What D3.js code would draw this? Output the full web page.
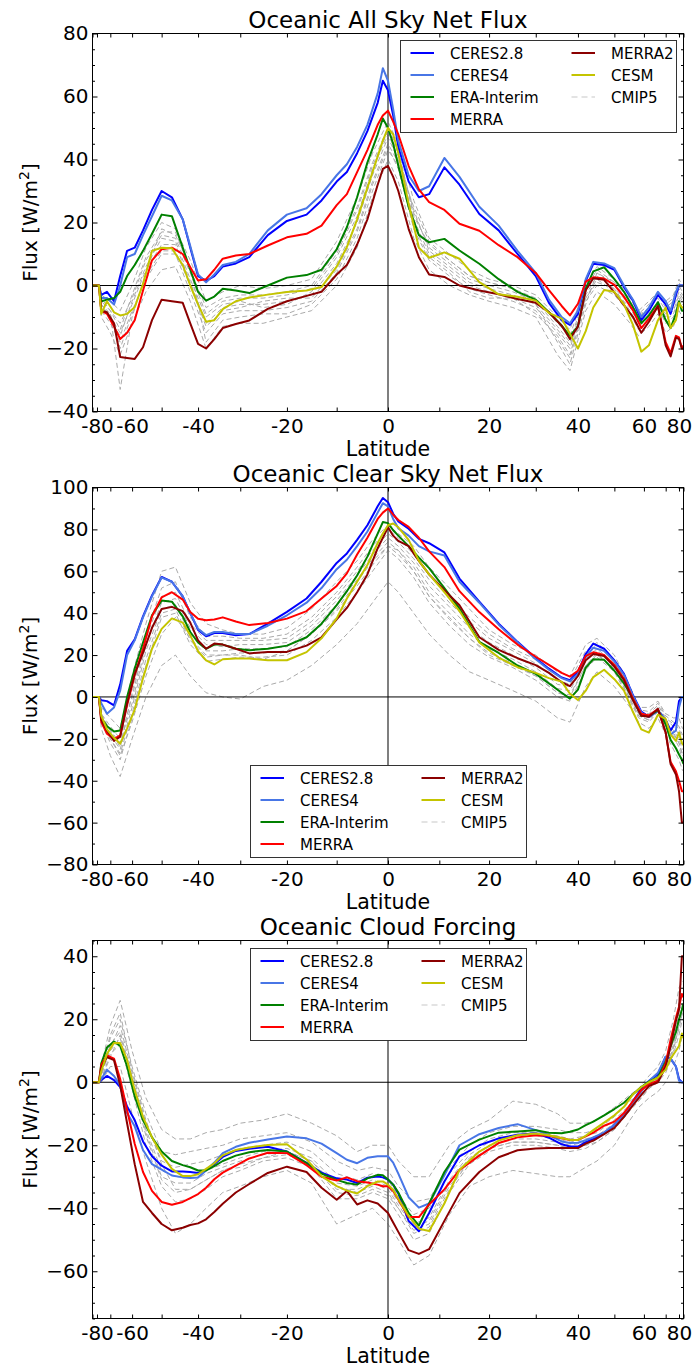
<!DOCTYPE html>
<html><head><meta charset="utf-8">
<script src="https://cdn.jsdelivr.net/npm/d3@7"></script>
<style>body{margin:0;background:#fff}svg{display:block}text{font-family:'DejaVu Sans',sans-serif;fill:#000}</style>
</head><body><svg id="c" width="696" height="1369"></svg>
<script>
// ---------- DATA ----------
const lat = [-90,-78,-76,-72,-68,-65,-62,-59,-56,-53,-50,-47,-44,-42,-40,-38,-36,-34,-31,-28,-24,-20,-16,-13,-10,-8,-6,-4,-2,-1,0,1,2,4,6,8,11,14,18,22,26,30,33,36,38,40,42,44,47,50,53,56,59,62,66,70,73,77,80,84,90];
const cmipLat = [-90,-78,-76,-70,-65,-60,-55,-50,-46,-42,-38,-34,-30,-25,-20,-15,-10,-6,-3,0,2,5,8,12,16,20,25,30,35,38,42,45,50,55,58,62,66,70,75,80,85,90];

const seriesNames = ["CERES2.8","CERES4","ERA-Interim","MERRA","MERRA2","CESM","CMIP5"];
const seriesColors = ["#0000ff","#4876e6","#008000","#ff0000","#8b0000","#c4c400","#aaaaaa"];

// Panel 1: All sky net flux
const allSkyCERES28 = [0,0,-3,-2,-5,3,11,12,17.5,24,30,28,21,12,3,1.5,3,6,7,9,16,20.5,22.5,27,33,36,42,49,58,65,62,54,44,33,28,29,37.5,32,22.7,17.5,10,3,-5.5,-11,-12.5,-9,1.5,6.9,6.5,5,-0.5,-4.8,-11,-8,-3,-6,-9,-3,0,0,0];
const allSkyCERES4 = [0,0,-4,-4,-6,0,9,10,16,22,28.5,27,21,12.5,3.5,1,3.5,6.5,7.5,10,17.5,22.5,24.5,29,35,38.5,44,51,61,69,65,56,46,35,30,31.5,40.5,34.5,25,19,11,4,-4.5,-10,-12,-8,2,7.5,7,5.5,0,-4.5,-10,-7,-2,-5,-8,-2,0,0,0];
const allSkyERA = [0,0,-5,-4.5,-4,-2,3,6.5,11,16.4,22.5,22,12,5,-2,-4.8,-3.5,-1,-1.6,-2.4,0,2.5,3.3,5,11.5,18.5,28,39,48,53,50,45,38,25,16,13.7,14.8,11.1,6.9,2,-2,-4.5,-8.5,-12.7,-16,-13,-1,4.5,5.8,2,-2,-6.9,-12,-9.5,-5.3,-11,-13.5,-9,-5,-8,-8];
const allSkyMERRA = [0,0,-8,-9,-13,-17,-15,-11,-1.6,8,11.5,12,10,5.8,1.6,2,5,8.5,9.5,10,12.7,15.3,16.4,19,25.5,29,36,43,51,54,55.5,52,48,38,30.5,26.5,24,19.6,17.4,12.8,9,4,-1.5,-6.5,-9.5,-5.8,1.2,2.6,2.2,0.2,-3.6,-7.9,-13.5,-10.5,-6.5,-18,-21.5,-16,-16.5,-20,-19];
const allSkyMERRA2 = [0,0,-8,-8.5,-12,-22.7,-23,-23.3,-19.6,-11,-4.5,-5,-5.5,-12,-18.5,-20,-17,-13.5,-12.2,-11.1,-7.4,-5,-3.3,-2,3.5,6.5,13,21,32,37,38,34.5,30,18,9,3.5,2.7,0,-1.6,-2.8,-4.3,-5.5,-8.5,-12.8,-17,-13,-1.5,2.3,1.8,-2.2,-6.2,-10,-15,-11.5,-6.5,-19,-22.5,-16.5,-17,-20,-20];
const allSkyCESM = [0,0,-9,-5,-8.5,-9.5,-9,-6.9,0.5,11,12,11.8,6.5,0,-6,-11.5,-11,-7.5,-5,-3.8,-2.9,-2.1,-1.6,-0.5,6,12.2,21,31,41,46,50,48,42,26,12,8.8,10.5,8.5,1.1,-2.8,-3.6,-4.8,-8.7,-10.5,-15.3,-20,-14.5,-7,-1.4,-2,-6,-12.5,-21,-19,-11,-7,-13.5,-11,-5.5,-7,-7];
const allSkyCMIP5 = [
 [0,0,-3,-5,-8,0,12,20,18,8,-5,-2,0,-1,0,2,14,28,42,52,45,27,15,10,5,2,0,-3,-10,-14,0,6,2,-3,-8,-5,-2,-5,-3,2,0,0],
 [0,0,-5,-8,-12,-4,8,16,15,4,-9,-5,-4,-4,-3,-1,10,24,38,49,42,23,12,7,2,0,-2,-5,-13,-18,-2,4,0,-5,-10,-7,-4,-8,-6,-1,-3,-3],
 [0,0,-7,-10,-15,-6,5,13,13,1,-12,-7,-6,-6,-5,-3,7,20,35,47,40,21,10,5,0,-2,-4,-7,-15,-20,-4,2,-2,-7,-12,-9,-5,-10,-8,-3,-5,-5],
 [0,0,-8,-12,-18,-8,2,10,10,-2,-15,-9,-8,-8,-7,-5,4,17,32,44,37,18,8,3,-1,-3,-5,-8,-17,-23,-5,0,-3,-9,-14,-11,-7,-12,-10,-5,-7,-7],
 [0,0,-10,-15,-22,-12,-2,5,6,-5,-20,-13,-12,-12,-10,-8,0,12,28,40,33,15,5,0,-3,-5,-7,-10,-22,-27,-8,-2,-6,-12,-16,-13,-9,-15,-13,-8,-10,-10],
 [0,0,-6,-9,-33,-10,4,18,16,6,-18,-11,-10,-9,-9,-6,2,15,30,43,38,25,14,8,3,1,-1,-6,-18,-25,-6,4,1,-6,-9,-8,-3,-7,-5,0,-2,-2],
 [0,0,-6,-11,-16,-5,6,15,14,2,-10,-6,-5,-7,-6,-2,9,22,37,48,41,24,11,6,1,-1,-3,-6,-14,-19,-3,3,-1,-6,-11,-8,-6,-9,-7,-2,-4,-4],
 [0,0,-7,-9,-20,-9,3,11,11,0,-13,-8,-7,-5,-4,-4,5,18,33,45,39,19,9,4,-2,-4,-4,-9,-16,-22,-4,1,-1,-8,-13,-10,-6,-11,-9,-4,-6,-6],
 [0,0,-4,-8,-14,-3,9,17,17,5,-7,-4,-3,-3,-2,0,11,25,39,50,43,22,13,8,3,1,-1,-4,-12,-16,-1,5,1,-4,-9,-6,-3,-6,-4,1,-1,-1]
];

// Panel 2: Clear sky net flux
const clearSkyCERES28 = [0,0,-1.6,-2,-4,6,22,27.5,38.5,48.5,57.3,55,48,40,32,29,30.5,30.5,29.4,30,35,40.6,47,55,64,68.5,75,82,91,95,93,87.5,83.8,80.3,75.5,73.4,69,56.5,45.5,35,26.3,18.5,13.5,9.3,8,12,20.5,25.5,23,17.5,11,0.8,-7,-9.5,-6.5,-11,-16,-12,-2,0,0];
const clearSkyCERES4 = [0,0,-3,-8,-5,3,20,27,38,48,57,55,48,40,32.5,29.5,31,31,30,30,34,39,45,52,61,65.5,72,79,88,92.5,91,85,80.5,77,72,69.5,67.5,55,45,34.5,26,18,13,9,7.5,11,19,23.5,22,17,10.5,0.5,-7.5,-9.5,-6.5,-11.5,-18,-16,-5,0,0];
const clearSkyERA = [0,0,-10,-14,-16.5,-16,0,13.5,26,39,46,45.5,38.5,31,26,23,25,25,23,22.3,23,24.5,28.5,35,43.8,50.5,58,67,78,83.5,83,79.6,77,72,66.5,61.5,52,42.2,26.3,21,15,11,6.5,2,-0.8,3.5,14,18,17.7,12.5,6.5,-0.8,-9,-9,-6.4,-13,-20.5,-24.5,-27.5,-30,-32];
const clearSkyMERRA = [0,0,-12,-17.5,-20,-18.3,-4,10.5,23,38.5,47.5,50,46.5,40.6,37.3,36.6,37,38,36,34.3,35.3,37.4,41,47,53,59,68,76,85,88,90,87,84.5,81.2,76,69.5,62,50.5,40.5,32.3,25,19.2,15.3,11.5,9.7,12.5,19.5,21.3,20,15.3,8.7,-0.8,-8,-8.8,-5.8,-17,-31,-35.5,-40,-45,-45];
const clearSkyMERRA2 = [0,0,-11,-16,-21,-19,-3,11,21,33,42,43,41,35.5,27,23,25.5,25,23,20.8,21.5,21.5,24.5,28.5,37,42.5,50,58.5,71,76,81,77,74.5,72,65,58.5,51,43.8,28.5,22.5,18.5,15.2,11.5,7,5.2,10,17.5,20.5,19.5,14.5,8,-1.6,-9,-9.5,-5.8,-17,-32,-37,-45,-60,-60];
const clearSkyCESM = [0,0,-9,-15.5,-19.5,-22.3,-15,-6,9,23,32.5,37.5,35.5,29.4,21.8,17.5,15.5,18,18.3,18.3,17.5,17.5,21.4,28,37.5,47,55,63,73.5,78,82,82.8,81,75,65,58.5,50,41,26,18.8,14.2,11.5,9,7.3,1.5,-1.5,3,9.5,13,8.5,3,-7.2,-15.5,-17,-8.5,-10.5,-18,-21,-17,-22,-23];
const clearSkyCMIP5 = [
 [0,0,-5,-10,-15,10,35,60,62,45,35,32,30,30,33,42,55,65,75,82,78,72,62,52,42,32,25,20,12,10,25,28,20,5,-5,-5,-2,-8,-10,-10,-15,-15],
 [0,0,-8,-14,-20,0,28,48,50,35,27,27,27,27,28,36,48,60,70,78,74,66,56,45,36,28,22,16,8,6,20,25,17,2,-7,-8,-4,-10,-13,-15,-20,-20],
 [0,0,-10,-18,-25,-5,22,42,44,30,22,22,23,23,24,32,44,56,66,74,70,62,50,40,30,23,18,12,4,3,17,22,15,0,-8,-10,-6,-12,-16,-20,-25,-25],
 [0,0,-12,-22,-30,-10,15,38,40,25,17,18,19,19,20,27,38,50,60,70,66,57,45,34,25,19,14,8,0,-2,13,19,12,-2,-10,-12,-7,-14,-19,-24,-30,-30],
 [0,0,-15,-28,-38,-20,0,15,20,10,2,0,-1,5,8,15,25,35,45,55,50,40,30,20,12,8,3,-2,-10,-12,5,12,5,-5,-12,-15,-10,-18,-25,-30,-35,-35],
 [0,0,-10,-20,-28,-12,10,30,38,28,20,20,20,18,22,30,42,55,65,72,70,60,48,38,28,20,15,10,2,0,15,20,14,-1,-9,-11,-6,-13,-18,-22,-28,-28],
 [0,0,-9,-16,-22,-3,25,45,47,33,25,24,25,25,26,34,46,58,68,76,72,64,53,43,33,26,20,14,6,5,18,23,16,1,-8,-9,-5,-11,-14,-18,-22,-22],
 [0,0,-11,-20,-27,-8,18,40,42,27,19,20,21,21,22,30,41,53,63,72,68,60,48,37,28,21,16,10,2,1,15,21,13,-1,-9,-11,-6,-13,-17,-22,-27,-27],
 [0,0,-8,-16,-24,2,30,52,55,38,29,29,28,28,30,38,50,62,72,80,76,68,58,48,38,30,23,18,10,8,22,26,18,3,-6,-7,-3,-9,-12,-14,-18,-18]
];

// Panel 3: Cloud forcing
const cloudCERES28 = [0,0,0.7,2,0.7,-1.5,-7.7,-12,-18.8,-23.5,-26.5,-28.3,-28.3,-28.5,-28.8,-27.8,-26,-23.7,-21.8,-21.1,-20.5,-22,-25.6,-28.7,-30.5,-30.9,-32,-30.3,-29.9,-30.2,-30.9,-32.5,-35.3,-44,-47.3,-41.5,-31.5,-23.5,-20,-17.8,-16.7,-16.2,-17.6,-19.7,-20.4,-20.4,-19,-18,-16.3,-13.5,-10.5,-6,-2,0.4,2.5,8.1,7.5,5,1,0,0];
const cloudCERES4 = [0,0,1,4,2,-1,-9.8,-14,-21.5,-26,-27.7,-29.6,-30.2,-30.4,-30.2,-28,-25.5,-22.5,-20.5,-19.2,-18.2,-17.2,-17.8,-19.5,-22.5,-24.6,-25.7,-24,-23.5,-23.5,-23.5,-25.5,-29,-36.5,-39.8,-38.5,-29.5,-20,-16.5,-14.5,-13.3,-15.2,-16.8,-18.8,-19.3,-19.2,-18.4,-17.5,-15.9,-13.5,-10.5,-6.5,-3,0.4,3,8.1,7.5,5,0.5,0,0];
const cloudERA = [0,0,6,11,12.9,11.5,5,-4.5,-12,-17.5,-22,-25,-26.3,-27,-28,-28,-26.6,-25,-23.3,-22.2,-21.5,-22,-25.7,-29,-31,-32,-32.5,-30.5,-29.4,-29.5,-30.9,-32.5,-35,-41.5,-45.5,-38.5,-28.5,-21.4,-18.2,-16,-15.6,-15.2,-16,-16.2,-15.7,-15,-13.6,-12.5,-10.5,-8.5,-6.5,-3.8,-1.5,0.2,1.5,6.5,11.5,16,20,23,25];
const cloudMERRA = [0,0,5.5,8.5,7.5,1,-8.8,-19.5,-28.5,-34.5,-38,-38.9,-38,-36.8,-35.5,-33.5,-30.8,-28.7,-26.5,-24.2,-22.4,-22.5,-26.3,-30,-31.2,-30.2,-31.4,-31.8,-32.5,-33,-33,-34.5,-37.2,-42.8,-42.8,-38.8,-34,-27.8,-23.3,-19.3,-17.5,-16.8,-17,-17.8,-18.3,-18.3,-17.2,-16,-13.8,-12.5,-9.8,-6,-2.5,-0.6,0.5,6,13.5,20.5,24,28,27];
const cloudMERRA2 = [0,0,4.5,8,7,-1,-13,-26,-38,-41.5,-45,-47,-46.2,-45.3,-44.8,-43.5,-41.2,-38.6,-35,-32.3,-28.8,-26.8,-28.5,-33.5,-37.3,-34.5,-38.8,-37.5,-38.5,-40,-41.5,-44.5,-47.5,-53.3,-54.5,-53,-44,-35.2,-28.5,-23.8,-21.6,-21,-20.9,-20.9,-20.9,-20.9,-19.5,-18.5,-16.5,-14.5,-11,-7.3,-4,-1.2,0,5,11.5,19.5,23,40,40];
const cloudCESM = [0,0,3.5,9,12.5,12.5,7.1,-2.5,-11,-17.5,-23,-27.5,-29.8,-29.8,-29.2,-27.5,-25.7,-23.2,-21.5,-20.7,-19.9,-19.7,-24.5,-29.8,-33,-34.4,-35.3,-33,-31.5,-31.5,-32.5,-34.1,-37,-42.5,-46.5,-47.2,-38.5,-27.8,-22,-18.5,-16.8,-16.3,-16.8,-17.7,-18.3,-18.3,-17,-15.2,-12.8,-10.5,-7.8,-3.8,-1.5,0,1.5,4,7.5,10,11.5,15.5,14];
const cloudCMIP5 = [
 [0,0,5,18,26,10,-5,-15,-18,-18,-16,-15,-13,-12,-10,-13,-17,-22,-20,-20,-25,-30,-30,-20,-15,-12,-6,-7,-10,-13,-13,-12,-8,-4,-2,2,5,10,20,30,32,32],
 [0,0,3,14,20,5,-10,-22,-23,-22,-21,-20,-18,-17,-16,-19,-25,-28,-27,-28,-33,-38,-37,-27,-20,-16,-14,-14,-15,-16,-16,-15,-11,-6,-4,0,3,7,15,25,28,28],
 [0,0,2,12,16,2,-15,-28,-30,-30,-28,-26,-24,-22,-21,-24,-32,-33,-31,-33,-38,-45,-43,-31,-23,-19,-17,-17,-18,-19,-18,-17,-13,-7,-5,-1,2,5,12,20,24,24],
 [0,0,1,9,12,-2,-20,-33,-38,-37,-34,-30,-28,-25,-24,-27,-37,-37,-35,-37,-42,-50,-48,-35,-26,-22,-20,-20,-21,-22,-21,-19,-15,-9,-6,-2,0,3,9,15,20,20],
 [0,0,0,5,5,-10,-25,-40,-48,-45,-40,-35,-33,-30,-28,-32,-45,-42,-40,-45,-50,-58,-55,-42,-33,-30,-28,-29,-30,-30,-27,-25,-20,-12,-8,-5,-3,0,5,10,15,15],
 [0,0,4,15,22,4,-12,-26,-34,-34,-31,-28,-26,-24,-22,-25,-33,-35,-33,-35,-40,-47,-45,-33,-25,-21,-19,-19,-20,-21,-20,-18,-14,-8,-5,-1,1,4,10,18,22,22],
 [0,0,2,11,18,3,-13,-25,-27,-26,-25,-23,-21,-20,-19,-22,-29,-31,-29,-31,-36,-42,-40,-29,-22,-18,-16,-16,-17,-18,-17,-16,-12,-7,-5,-1,2,6,13,22,26,26],
 [0,0,3,10,14,0,-17,-31,-35,-34,-31,-28,-27,-24,-23,-26,-35,-36,-34,-36,-40,-48,-46,-34,-25,-21,-19,-19,-20,-21,-20,-19,-15,-8,-6,-2,1,4,11,17,22,22],
 [0,0,1,8,15,1,-16,-30,-32,-32,-29,-27,-25,-23,-22,-25,-34,-34,-32,-34,-39,-46,-44,-32,-24,-20,-18,-18,-19,-20,-19,-18,-14,-8,-5,-1,1,4,11,19,23,23]
];

const titles = ["Oceanic All Sky Net Flux","Oceanic Clear Sky Net Flux","Oceanic Cloud Forcing"];
const yDomains = [[-40,80],[-80,100],[-75,45]];
const yMajorTicks = [[-40,-20,0,20,40,60,80],[-80,-60,-40,-20,0,20,40,60,80,100],[-60,-40,-20,0,20,40]];
const yMinorSteps = [5,10,5];
const xTickDeg = [-90,-80,-70,-60,-50,-40,-30,-20,-10,0,10,20,30,40,50,60,70,80,90];
const xLabelDeg = [-80,-60,-40,-20,0,20,40,60,80];

// ---------- LAYOUT ----------
const L = 92.5, R = 683.5;
const layout = [
  {top:33.5, bottom:411.5, legend:[400.5,40.5]},
  {top:487.5, bottom:864.5, legend:[250.5,765.5]},
  {top:940.5, bottom:1318.5, legend:[250.5,948.5]}
];
const panelSeries = [
  [allSkyCERES28,allSkyCERES4,allSkyERA,allSkyMERRA,allSkyMERRA2,allSkyCESM],
  [clearSkyCERES28,clearSkyCERES4,clearSkyERA,clearSkyMERRA,clearSkyMERRA2,clearSkyCESM],
  [cloudCERES28,cloudCERES4,cloudERA,cloudMERRA,cloudMERRA2,cloudCESM]
];
const panelCMIP = [allSkyCMIP5, clearSkyCMIP5, cloudCMIP5];

const svg = d3.select("#c");
const xs = d3.scaleLinear().domain([-1,1]).range([L,R]);
const sinD = d => Math.sin(d*Math.PI/180);
const X = d => xs(sinD(d));
const FONT = "'DejaVu Sans',sans-serif";

layout.forEach((lay,i)=>{
  const ys = d3.scaleLinear().domain(yDomains[i]).range([lay.bottom, lay.top]);
  const g = svg.append("g");
  const cid = "clip"+i;
  svg.append("clipPath").attr("id",cid).append("rect")
    .attr("x",L).attr("y",lay.top).attr("width",R-L).attr("height",lay.bottom-lay.top);
  const plot = g.append("g").attr("clip-path",`url(#${cid})`);

  // CMIP5 ensemble
  const cl = d3.line().x((v,j)=>X(cmipLat[j])).y(v=>ys(v));
  panelCMIP[i].forEach(arr=>{
    plot.append("path").attr("d",cl(arr)).attr("fill","none")
      .attr("stroke",seriesColors[6]).attr("stroke-width",1).attr("stroke-dasharray","5,3");
  });
  // zero lines
  plot.append("line").attr("x1",X(0)).attr("x2",X(0)).attr("y1",lay.top).attr("y2",lay.bottom)
    .attr("stroke","#555").attr("stroke-width",1.5);
  plot.append("line").attr("x1",L).attr("x2",R).attr("y1",ys(0)).attr("y2",ys(0))
    .attr("stroke","#000").attr("stroke-width",1);
  // main series
  const ml = d3.line().x((v,j)=>X(lat[j])).y(v=>ys(v));
  panelSeries[i].forEach((arr,k)=>{
    plot.append("path").attr("d",ml(arr)).attr("fill","none")
      .attr("stroke",seriesColors[k]).attr("stroke-width",2).attr("stroke-linejoin","round");
  });

  // frame
  g.append("rect").attr("x",L).attr("y",lay.top).attr("width",R-L).attr("height",lay.bottom-lay.top)
    .attr("fill","none").attr("stroke","#000").attr("stroke-width",1);

  const [y0,y1] = yDomains[i];
  const minors = d3.range(y0, y1+0.001, yMinorSteps[i]).filter(v=>!yMajorTicks[i].includes(v));
  const clean = sel => { sel.select(".domain").remove(); sel.selectAll("line").attr("stroke","#000"); };

  g.append("g").attr("transform",`translate(${L},0)`)
    .call(d3.axisLeft(ys).tickValues(yMajorTicks[i]).tickSize(-5).tickPadding(4).tickFormat(d3.format("d")))
    .call(clean).call(s=>s.selectAll("text").attr("font-size",20).attr("font-family",FONT).attr("fill","#000"));
  g.append("g").attr("transform",`translate(${L},0)`)
    .call(d3.axisLeft(ys).tickValues(minors).tickSize(-2.5).tickFormat("")).call(clean);
  g.append("g").attr("transform",`translate(${R},0)`)
    .call(d3.axisRight(ys).tickValues(yMajorTicks[i]).tickSize(-5).tickFormat("")).call(clean);
  g.append("g").attr("transform",`translate(${R},0)`)
    .call(d3.axisRight(ys).tickValues(minors).tickSize(-2.5).tickFormat("")).call(clean);

  const degOf = v => Math.round(Math.asin(Math.max(-1,Math.min(1,v)))*180/Math.PI);
  g.append("g").attr("transform",`translate(0,${lay.bottom})`)
    .call(d3.axisBottom(xs).tickValues(xTickDeg.map(sinD)).tickSize(-4).tickPadding(6)
      .tickFormat(v=>{const d=degOf(v); return xLabelDeg.includes(d) ? String(d) : "";}))
    .call(clean).call(s=>s.selectAll("text").attr("font-size",20).attr("font-family",FONT).attr("fill","#000").attr("dy","0.75em"));
  g.append("g").attr("transform",`translate(0,${lay.top})`)
    .call(d3.axisTop(xs).tickValues(xTickDeg.map(sinD)).tickSize(-4).tickFormat("")).call(clean);

  // titles & labels
  g.append("text").attr("x",(L+R)/2).attr("y",lay.top-5.5).attr("text-anchor","middle")
    .attr("font-size",23).text(titles[i]);
  g.append("text").attr("x",(L+R)/2).attr("y",lay.bottom+44.5).attr("text-anchor","middle")
    .attr("font-size",20.5).text("Latitude");
  const yl = g.append("text").attr("transform",`translate(37,${(lay.top+lay.bottom)/2}) rotate(-90)`)
    .attr("text-anchor","middle").attr("font-size",20);
  yl.append("tspan").text("Flux [W/m");
  yl.append("tspan").attr("font-size",14).attr("dy",-8).text("2");
  yl.append("tspan").attr("dy",8).text("]");

  // legend
  const [lx,ly] = lay.legend;
  const lg = g.append("g");
  lg.append("rect").attr("x",lx).attr("y",ly).attr("width",276).attr("height",92)
    .attr("fill","#fff").attr("stroke","#333").attr("stroke-width",1);
  seriesNames.forEach((name,k)=>{
    const col = k<4 ? 0 : 1, row = k<4 ? k : k-4;
    const cy = ly + 12.5 + row*22;
    const x0 = lx + (col===0 ? 10 : 171);
    lg.append("line").attr("x1",x0).attr("x2",x0+23.5).attr("y1",cy).attr("y2",cy)
      .attr("stroke", k===6 ? "#c8c8c8" : seriesColors[k]).attr("stroke-width", k===6 ? 1.2 : 2)
      .attr("stroke-dasharray", k===6 ? "6,4" : null);
    lg.append("text").attr("x",x0+39.5).attr("y",cy+5.5).attr("font-size",15).text(name);
  });
});
</script></body></html>
